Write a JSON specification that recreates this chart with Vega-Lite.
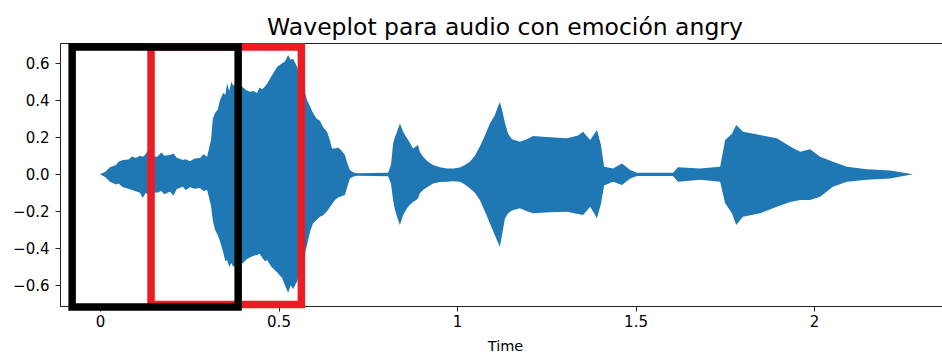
{
  "$schema": "https://vega.github.io/schema/vega-lite/v6.json",
  "width": 884,
  "height": 263,
  "autosize": {"type": "none"},
  "padding": {"left": 60, "top": 43, "right": 0, "bottom": 46},
  "background": "white",
  "title": {
    "text": "Waveplot para audio con emoción angry",
    "font": "DejaVu Sans",
    "fontSize": 23.5,
    "fontWeight": "normal",
    "color": "#000000",
    "anchor": "middle",
    "frame": "group",
    "baseline": "alphabetic",
    "offset": 8,
    "dy": 23,
    "dx": 3
  },
  "config": {
    "view": {"stroke": "#222222", "strokeWidth": 1},
    "axis": {
      "grid": false,
      "domainColor": "#222222",
      "tickColor": "#222222",
      "tickSize": 5,
      "labelFont": "DejaVu Sans",
      "labelFontSize": 15,
      "labelColor": "#000000",
      "titleFont": "DejaVu Sans",
      "titleFontSize": 14.5,
      "titleFontWeight": "normal",
      "titleColor": "#000000"
    }
  },
  "datasets": {
    "envelope": [
      {"t": 0.0, "hi": 0.0, "lo": 0.0},
      {"t": 0.014, "hi": 0.012, "lo": -0.015},
      {"t": 0.028, "hi": 0.038, "lo": -0.04},
      {"t": 0.045, "hi": 0.05, "lo": -0.055},
      {"t": 0.052, "hi": 0.068, "lo": -0.05},
      {"t": 0.064, "hi": 0.077, "lo": -0.07},
      {"t": 0.08, "hi": 0.08, "lo": -0.078},
      {"t": 0.09, "hi": 0.096, "lo": -0.085},
      {"t": 0.1, "hi": 0.088, "lo": -0.092},
      {"t": 0.112, "hi": 0.1, "lo": -0.1},
      {"t": 0.12, "hi": 0.095, "lo": -0.128},
      {"t": 0.128, "hi": 0.108, "lo": -0.1},
      {"t": 0.134, "hi": 0.13, "lo": -0.11},
      {"t": 0.145, "hi": 0.098, "lo": -0.095},
      {"t": 0.16, "hi": 0.095, "lo": -0.1},
      {"t": 0.172, "hi": 0.118, "lo": -0.09},
      {"t": 0.18, "hi": 0.1, "lo": -0.108},
      {"t": 0.196, "hi": 0.104, "lo": -0.094},
      {"t": 0.206, "hi": 0.112, "lo": -0.115},
      {"t": 0.215, "hi": 0.09, "lo": -0.08},
      {"t": 0.232, "hi": 0.077, "lo": -0.067},
      {"t": 0.24, "hi": 0.082, "lo": -0.085},
      {"t": 0.252, "hi": 0.07, "lo": -0.07},
      {"t": 0.265, "hi": 0.085, "lo": -0.078},
      {"t": 0.28, "hi": 0.088, "lo": -0.074},
      {"t": 0.29, "hi": 0.108, "lo": -0.09},
      {"t": 0.3, "hi": 0.095, "lo": -0.085},
      {"t": 0.311, "hi": 0.185, "lo": -0.17},
      {"t": 0.316, "hi": 0.3, "lo": -0.25},
      {"t": 0.322, "hi": 0.33, "lo": -0.3},
      {"t": 0.33, "hi": 0.35, "lo": -0.33},
      {"t": 0.336, "hi": 0.4, "lo": -0.36},
      {"t": 0.345, "hi": 0.44, "lo": -0.42},
      {"t": 0.351, "hi": 0.43, "lo": -0.47},
      {"t": 0.356, "hi": 0.49, "lo": -0.463},
      {"t": 0.362, "hi": 0.45, "lo": -0.5},
      {"t": 0.368, "hi": 0.5, "lo": -0.48},
      {"t": 0.373, "hi": 0.48, "lo": -0.5},
      {"t": 0.385, "hi": 0.49, "lo": -0.49},
      {"t": 0.401, "hi": 0.47, "lo": -0.48},
      {"t": 0.41, "hi": 0.455, "lo": -0.46},
      {"t": 0.42, "hi": 0.447, "lo": -0.45},
      {"t": 0.43, "hi": 0.45, "lo": -0.44},
      {"t": 0.44, "hi": 0.44, "lo": -0.436},
      {"t": 0.447, "hi": 0.47, "lo": -0.43},
      {"t": 0.454, "hi": 0.46, "lo": -0.45},
      {"t": 0.462, "hi": 0.475, "lo": -0.47},
      {"t": 0.468, "hi": 0.49, "lo": -0.463},
      {"t": 0.48, "hi": 0.53, "lo": -0.5},
      {"t": 0.496, "hi": 0.58, "lo": -0.53},
      {"t": 0.51, "hi": 0.6, "lo": -0.56},
      {"t": 0.518, "hi": 0.61, "lo": -0.6},
      {"t": 0.527, "hi": 0.645, "lo": -0.64},
      {"t": 0.534, "hi": 0.62, "lo": -0.6},
      {"t": 0.541, "hi": 0.625, "lo": -0.62},
      {"t": 0.552, "hi": 0.58, "lo": -0.58},
      {"t": 0.566, "hi": 0.5, "lo": -0.5},
      {"t": 0.58, "hi": 0.4, "lo": -0.38},
      {"t": 0.59, "hi": 0.36, "lo": -0.3},
      {"t": 0.597, "hi": 0.33, "lo": -0.265},
      {"t": 0.607, "hi": 0.3, "lo": -0.245},
      {"t": 0.616, "hi": 0.29, "lo": -0.229},
      {"t": 0.625, "hi": 0.255, "lo": -0.222},
      {"t": 0.636, "hi": 0.23, "lo": -0.2},
      {"t": 0.643, "hi": 0.19, "lo": -0.18},
      {"t": 0.65, "hi": 0.14, "lo": -0.16},
      {"t": 0.658, "hi": 0.14, "lo": -0.139},
      {"t": 0.667, "hi": 0.145, "lo": -0.125},
      {"t": 0.675, "hi": 0.131, "lo": -0.12},
      {"t": 0.686, "hi": 0.104, "lo": -0.112},
      {"t": 0.693, "hi": 0.06, "lo": -0.065},
      {"t": 0.7, "hi": 0.023, "lo": -0.022},
      {"t": 0.71, "hi": 0.01, "lo": -0.012},
      {"t": 0.72, "hi": 0.006, "lo": -0.008},
      {"t": 0.807, "hi": 0.008, "lo": -0.01},
      {"t": 0.815, "hi": 0.05, "lo": -0.05},
      {"t": 0.821, "hi": 0.167, "lo": -0.14},
      {"t": 0.826, "hi": 0.2, "lo": -0.19},
      {"t": 0.832, "hi": 0.23, "lo": -0.23},
      {"t": 0.84, "hi": 0.275, "lo": -0.274},
      {"t": 0.849, "hi": 0.23, "lo": -0.22},
      {"t": 0.86, "hi": 0.195, "lo": -0.184},
      {"t": 0.868, "hi": 0.17, "lo": -0.165},
      {"t": 0.877, "hi": 0.14, "lo": -0.15},
      {"t": 0.885, "hi": 0.15, "lo": -0.14},
      {"t": 0.891, "hi": 0.158, "lo": -0.13},
      {"t": 0.896, "hi": 0.12, "lo": -0.103},
      {"t": 0.905, "hi": 0.095, "lo": -0.085},
      {"t": 0.917, "hi": 0.07, "lo": -0.068},
      {"t": 0.933, "hi": 0.05, "lo": -0.049},
      {"t": 0.952, "hi": 0.038, "lo": -0.042},
      {"t": 0.972, "hi": 0.032, "lo": -0.04},
      {"t": 0.99, "hi": 0.032, "lo": -0.038},
      {"t": 1.008, "hi": 0.037, "lo": -0.04},
      {"t": 1.022, "hi": 0.05, "lo": -0.055},
      {"t": 1.036, "hi": 0.068, "lo": -0.076},
      {"t": 1.05, "hi": 0.1, "lo": -0.1},
      {"t": 1.064, "hi": 0.15, "lo": -0.139},
      {"t": 1.078, "hi": 0.21, "lo": -0.2},
      {"t": 1.092, "hi": 0.275, "lo": -0.265},
      {"t": 1.106, "hi": 0.32, "lo": -0.33},
      {"t": 1.115, "hi": 0.37, "lo": -0.37},
      {"t": 1.12, "hi": 0.39, "lo": -0.391},
      {"t": 1.126, "hi": 0.35, "lo": -0.33},
      {"t": 1.134, "hi": 0.28, "lo": -0.24},
      {"t": 1.143, "hi": 0.22, "lo": -0.21},
      {"t": 1.154, "hi": 0.19, "lo": -0.195},
      {"t": 1.176, "hi": 0.176, "lo": -0.184},
      {"t": 1.196, "hi": 0.19, "lo": -0.2},
      {"t": 1.213, "hi": 0.207, "lo": -0.21},
      {"t": 1.261, "hi": 0.2, "lo": -0.205},
      {"t": 1.308, "hi": 0.195, "lo": -0.202},
      {"t": 1.339, "hi": 0.21, "lo": -0.215},
      {"t": 1.353, "hi": 0.23, "lo": -0.22},
      {"t": 1.373, "hi": 0.185, "lo": -0.175},
      {"t": 1.392, "hi": 0.24, "lo": -0.238},
      {"t": 1.403, "hi": 0.16, "lo": -0.16},
      {"t": 1.412, "hi": 0.041, "lo": -0.06},
      {"t": 1.437, "hi": 0.032, "lo": -0.04},
      {"t": 1.462, "hi": 0.059, "lo": -0.058},
      {"t": 1.485, "hi": 0.023, "lo": -0.022},
      {"t": 1.504, "hi": 0.008, "lo": -0.009},
      {"t": 1.605, "hi": 0.009, "lo": -0.009},
      {"t": 1.619, "hi": 0.038, "lo": -0.04},
      {"t": 1.681, "hi": 0.032, "lo": -0.03},
      {"t": 1.737, "hi": 0.041, "lo": -0.04},
      {"t": 1.751, "hi": 0.185, "lo": -0.157},
      {"t": 1.77, "hi": 0.22, "lo": -0.21},
      {"t": 1.782, "hi": 0.266, "lo": -0.274},
      {"t": 1.801, "hi": 0.23, "lo": -0.229},
      {"t": 1.849, "hi": 0.212, "lo": -0.21},
      {"t": 1.896, "hi": 0.195, "lo": -0.175},
      {"t": 1.933, "hi": 0.15, "lo": -0.15},
      {"t": 1.961, "hi": 0.122, "lo": -0.139},
      {"t": 1.989, "hi": 0.135, "lo": -0.139},
      {"t": 2.017, "hi": 0.095, "lo": -0.121},
      {"t": 2.053, "hi": 0.068, "lo": -0.067},
      {"t": 2.092, "hi": 0.041, "lo": -0.04},
      {"t": 2.148, "hi": 0.027, "lo": -0.03},
      {"t": 2.213, "hi": 0.02, "lo": -0.022},
      {"t": 2.277, "hi": 0.0, "lo": 0.0}
    ],
    "boxes": [
      {"name": "segmento", "x0": 0.143, "x1": 0.564, "y0": -0.704, "y1": 0.688},
      {"name": "ventana", "x0": -0.078, "x1": 0.387, "y0": -0.717, "y1": 0.688}
    ]
  },
  "layer": [
    {
      "data": {"name": "envelope"},
      "mark": {"type": "area", "color": "#1f77b4", "interpolate": "linear"},
      "encoding": {
        "x": {
          "field": "t",
          "type": "quantitative",
          "title": "Time",
          "scale": {"domain": [-0.112, 2.364], "nice": false, "zero": false},
          "axis": {"values": [0, 0.5, 1, 1.5, 2], "format": "~g", "labelPadding": 3, "titlePadding": 10, "titleX": 445}
        },
        "y": {
          "field": "hi",
          "type": "quantitative",
          "title": null,
          "scale": {"domain": [-0.712, 0.71], "nice": false, "zero": false},
          "axis": {"values": [-0.6, -0.4, -0.2, 0, 0.2, 0.4, 0.6], "format": ".1f", "labelPadding": 6}
        },
        "y2": {"field": "lo"}
      }
    },
    {
      "data": {"name": "boxes"},
      "transform": [{"filter": "datum.name === 'segmento'"}],
      "mark": {"type": "rect", "fill": null, "stroke": "#ed1c24", "strokeWidth": 7.5},
      "encoding": {
        "x": {"field": "x0", "type": "quantitative"},
        "x2": {"field": "x1"},
        "y": {"field": "y0", "type": "quantitative"},
        "y2": {"field": "y1"}
      }
    },
    {
      "data": {"name": "boxes"},
      "transform": [{"filter": "datum.name === 'ventana'"}],
      "mark": {"type": "rect", "fill": null, "stroke": "#000000", "strokeWidth": 7.5},
      "encoding": {
        "x": {"field": "x0", "type": "quantitative"},
        "x2": {"field": "x1"},
        "y": {"field": "y0", "type": "quantitative"},
        "y2": {"field": "y1"}
      }
    }
  ]
}
